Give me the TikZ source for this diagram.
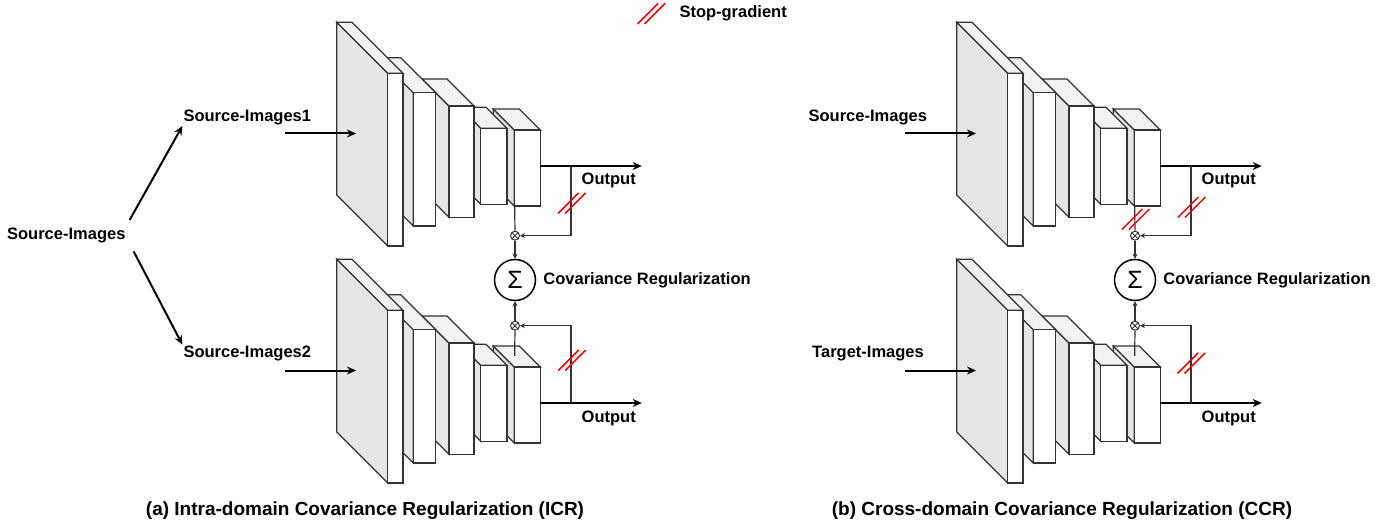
\documentclass[tikz,border=0pt]{standalone}
\usepackage{fontspec}
\setmainfont{Liberation Sans}
\usepackage{xcolor}
\usepackage{tikz}
\usetikzlibrary{arrows.meta,positioning,calc}

\definecolor{sidegray}{HTML}{E6E6E6}
\definecolor{topgray}{HTML}{F2F2F2}
\definecolor{edgegray}{HTML}{333333}

\begin{document}
\begin{tikzpicture}[
    x=1pt, y=-1pt,
    label/.style   = {font=\fontsize{16.5}{20}\selectfont\bfseries, inner sep=1pt},
    caption/.style = {font=\fontsize{19}{23}\selectfont\bfseries, inner sep=1pt},
    arrow/.style   = {-{Stealth[length=9pt,width=8pt]}, line width=2pt},
    link/.style    = {draw=edgegray, line width=1.2pt},
    tip/.style     = {-{Stealth[length=5pt,width=5pt]}},
    face/.style    = {draw=edgegray, line width=1.2pt},
    mult/.style    = {circle, draw=edgegray, line width=1pt, minimum size=9pt,
                      inner sep=0pt, fill=white,
                      path picture={\draw[edgegray, line width=0.8pt]
                        (path picture bounding box.north west) -- (path picture bounding box.south east)
                        (path picture bounding box.north east) -- (path picture bounding box.south west);}},
    sumnode/.style = {circle, draw=black, line width=1.5pt, minimum size=41pt,
                      inner sep=0pt, fill=white, font=\fontsize{25}{25}\selectfont},
    stopgrad/.pic  = {\draw[red, line width=1.5pt] (-13.5,10.5) -- (7,-10)
                                                   (-6.5,10.5) -- (14,-10);}
]
\useasboundingbox (0,0) rectangle (1400,529);

% Networks: (a) left, (b) right; upper and lower branch
\foreach \p/\ox in {a/0, b/620} {
  \foreach \q/\oy in {u/0, l/237} {
    \begin{scope}[shift={(\ox,\oy)}]
      \foreach \fx/\fy/\w/\h/\d in {514.3/130/26/76/21, 480.7/128.3/26.3/76/21,
                                    449/106/25/111.3/27, 413.3/92.7/22.4/133.3/35,
                                    387.7/73.3/15.3/172.7/51} {
        \filldraw[face, fill=sidegray] (\fx,\fy) -- ++(-\d,-\d) -- ++(0,\h) -- (\fx,\fy+\h) -- cycle;
        \filldraw[face, fill=topgray]  (\fx,\fy) -- ++(-\d,-\d) -- ++(\w,0) -- (\fx+\w,\fy) -- cycle;
        \filldraw[face, fill=white]    (\fx,\fy) rectangle ++(\w,\h);
      }
      \coordinate (\p\q-inS) at (285,133.5);
      \coordinate (\p\q-in)  at (356,133.5);
      \coordinate (\p\q-out) at (540.3,166);
      \coordinate (\p\q-br)  at (571,166);
      \coordinate (\p\q-end) at (641.7,166);
      \coordinate (\p\q-bot) at (514.7,206);
      \coordinate (\p\q-topf) at (514.7,119);
    \end{scope}
  }
}

% Sum and product nodes
\node[sumnode] (suma) at (515,280) {Σ};
\node[sumnode] (sumb) at (1135,280) {Σ};
\node[mult] (mulau) at (515,235.7) {};
\node[mult] (mulal) at (515,325.7) {};
\node[mult] (mulbu) at (1135,235.7) {};
\node[mult] (mulbl) at (1135,325.7) {};

% Labels
\node[label] (src)   at (66.3,235.7)  {Source-Images};
\node[label] (srca1) at (247.3,117.3) {Source-Images1};
\node[label] (srca2) at (247.3,353.3) {Source-Images2};
\node[label] (srcb)  at (867.8,117.3) {Source-Images};
\node[label] (tgtb)  at (868,354)     {Target-Images};
\node[label] (outau) at (608.7,180)   {Output};
\node[label] (outal) at (608.7,418.3) {Output};
\node[label] (outbu) at (1228.7,180)  {Output};
\node[label] (outbl) at (1228.7,418.3) {Output};
\node[label, right=6pt of suma] (cova) {Covariance Regularization};
\node[label, right=6pt of sumb] (covb) {Covariance Regularization};
\node[label, anchor=west] (legend) at (678.3,13.3) {Stop-gradient};

\node[caption] (capa) at (365,511)  {(a) Intra-domain Covariance Regularization (ICR)};
\node[caption] (capb) at (1062,511) {(b) Cross-domain Covariance Regularization (CCR)};

% Arrows
\draw[arrow] ([xshift=3pt,yshift=7pt]src.north east) -- (srca1.south west);
\draw[arrow] ([xshift=7pt,yshift=-7pt]src.south east) -- (srca2.north west);
\foreach \p in {a,b} {
  \draw[arrow] (\p u-inS) -- (\p u-in);
  \draw[arrow] (\p l-inS) -- (\p l-in);
  \draw[arrow] (\p u-out) -- (\p u-end);
  \draw[arrow] (\p l-out) -- (\p l-end);
  \draw[link] (\p u-bot) -- (mul\p u);
  \draw[link] (\p l-topf) -- (mul\p l);
  \draw[link, tip] (\p u-br) |- (mul\p u);
  \draw[link, tip] (\p l-br) |- (mul\p l);
  \draw[link, tip] (mul\p u) -- (suma.north -| mul\p u);
  \draw[link, tip] (mul\p l) -- (suma.south -| mul\p l);
}

% Stop-gradient marks
\pic at (571.5,203) {stopgrad};
\pic at (571.7,360) {stopgrad};
\pic at (1191.3,207) {stopgrad};
\pic at (1191,363) {stopgrad};
\pic at (1135.3,219) {stopgrad};
\pic at (651,13.5) {stopgrad};

\end{tikzpicture}
\end{document}
